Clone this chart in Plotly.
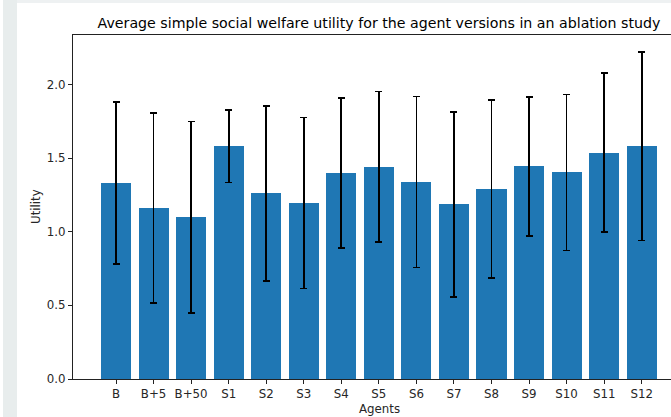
import plotly.graph_objects as go

agents = ["B", "B+5", "B+50", "S1", "S2", "S3", "S4", "S5", "S6", "S7", "S8", "S9", "S10", "S11", "S12"]
mean_utility = [1.33, 1.16, 1.097, 1.58, 1.26, 1.195, 1.398, 1.44, 1.338, 1.185, 1.29, 1.443, 1.402, 1.537, 1.58]
std_utility = [0.551, 0.645, 0.651, 0.246, 0.594, 0.581, 0.511, 0.512, 0.58, 0.626, 0.602, 0.47, 0.53, 0.54, 0.64]
yticks = [0.0, 0.5, 1.0, 1.5, 2.0]
ytick_text = ["0.0", "0.5", "1.0", "1.5", "2.0"]

W, H = 671, 417
L, R, T, B = 73, 0, 35, 38
pw, ph = W - L - R, H - T - B

def px_x(px):
    return (px - L) / pw

def px_y(py):
    return (H - B - py) / ph

xpos = list(range(len(agents)))
unit = 37.55
x_lo = -(116 - L) / unit
x_hi = x_lo + pw / unit

fig = go.Figure()
fig.add_trace(go.Bar(
    x=xpos, y=mean_utility, width=0.8,
    marker=dict(color="#1f77b4", line=dict(width=0)),
    error_y=dict(type="data", array=std_utility, visible=True,
                 color="black", thickness=1.7, width=3.5),
))

font = "DejaVu Sans, sans-serif"
tick_size = 11.8
fig.update_layout(
    width=W, height=H,
    margin=dict(l=L, r=R, t=T, b=B, pad=0),
    paper_bgcolor="white", plot_bgcolor="white",
    showlegend=False,
    font=dict(family=font, size=tick_size, color="#262626"),
    bargap=0,
    title=dict(text="Average simple social welfare utility for the agent versions in an ablation study",
               font=dict(family=font, size=14.2, color="black"),
               xref="container", x=379 / W, xanchor="center",
               yref="container", y=1 - 23 / H, yanchor="middle"),
    xaxis=dict(range=[x_lo, x_hi], tickmode="array", tickvals=xpos, ticktext=agents,
               showgrid=False, zeroline=False, showline=True, linecolor="#222", linewidth=1,
               mirror=True, ticks="outside", ticklen=4, tickcolor="#222", tickwidth=1,
               tickfont=dict(family=font, size=tick_size, color="#262626")),
    yaxis=dict(range=[0, (H - B - T) / 147.3], tickmode="array", tickvals=yticks, ticktext=ytick_text,
               showgrid=False, zeroline=False, showline=True, linecolor="#222", linewidth=1,
               ticks="outside", ticklen=4, tickcolor="#222", tickwidth=1,
               tickfont=dict(family=font, size=tick_size, color="#262626")),
)

fig.add_annotation(text="Agents", xref="paper", yref="paper", x=px_x(379), y=px_y(409),
                   xanchor="center", yanchor="middle", showarrow=False,
                   font=dict(family=font, size=tick_size, color="#262626"))
fig.add_annotation(text="Utility", xref="paper", yref="paper", x=px_x(36), y=px_y(207),
                   xanchor="center", yanchor="middle", showarrow=False, textangle=-90,
                   font=dict(family=font, size=tick_size, color="#262626"))

# light gray window strips at left and top edges
fig.add_shape(type="rect", xref="paper", yref="paper", x0=px_x(17), x1=px_x(W), y0=px_y(3), y1=px_y(0),
              fillcolor="#eef1f2", line=dict(width=0), layer="below")
fig.add_shape(type="rect", xref="paper", yref="paper", x0=px_x(3), x1=px_x(17), y0=px_y(H), y1=px_y(0),
              fillcolor="#e8eded", line=dict(width=0), layer="below")

fig.write_html("out.html", config={"displayModeBar": False},
               post_script="document.body.style.margin='0px';document.body.style.overflow='hidden';")
